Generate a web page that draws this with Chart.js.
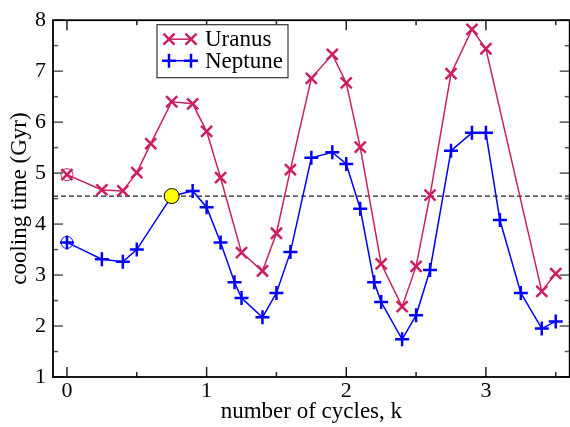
<!DOCTYPE html>
<html><head><meta charset="utf-8">
<script src="https://cdn.jsdelivr.net/npm/chart.js@4/dist/chart.umd.min.js"></script>
<style>html,body{margin:0;padding:0;overflow:hidden;background:#fff}canvas{display:block}</style>
</head><body>
<canvas id="c" width="580" height="427"></canvas>
<script>
const uranusX = [0,0.25,0.4,0.5,0.6,0.75,0.9,1.0,1.1,1.25,1.4,1.5,1.6,1.75,1.9,2.0,2.1,2.25,2.4,2.5,2.6,2.75,2.9,3.0,3.4,3.5];
const uranusY = [4.97,4.67,4.65,5.01,5.58,6.40,6.36,5.82,4.91,3.44,3.08,3.82,5.07,6.86,7.33,6.77,5.51,3.22,2.38,3.17,4.57,6.95,7.82,7.44,2.68,3.03];
const neptuneX = [0,0.25,0.4,0.5,0.75,0.9,1.0,1.1,1.2,1.25,1.4,1.5,1.6,1.75,1.9,2.0,2.1,2.2,2.25,2.4,2.5,2.6,2.75,2.9,3.0,3.1,3.25,3.4,3.5];
const neptuneY = [3.64,3.31,3.26,3.50,4.55,4.65,4.33,3.64,2.86,2.55,2.17,2.65,3.45,5.30,5.41,5.18,4.30,2.86,2.47,1.74,2.21,3.10,5.44,5.79,5.79,4.08,2.65,1.95,2.09];
const refLevel = 4.55;
const markX = 0.75, markY = 4.55;
const xRange = [-0.1, 3.6];
const yRange = [1, 8];
const xMajor = [0,1,2,3];
const xMinor = [0.5,1.5,2.5,3.5];
const xTickLabels = ['0','1','2','3'];
const yMajor = [1,2,3,4,5,6,7,8];
const yMinor = [1.5,2.5,3.5,4.5,5.5,6.5,7.5];
const seriesNames = ['Uranus','Neptune'];
const xTitle = 'number of cycles, k';
const yTitle = 'cooling time (Gyr)';

const UCOL = 'rgb(204,30,98)';
const NCOL = '#0000ff';
const pts = (xs, ys) => xs.map((x, i) => ({x, y: ys[i]}));

const frameTicks = {
  id: 'frameTicks',
  afterDatasetsDraw(chart) {
    const {ctx, chartArea: a, scales: {x, y}} = chart;
    ctx.save();
    const ln = (x1, y1, x2, y2) => { ctx.beginPath(); ctx.moveTo(x1, y1); ctx.lineTo(x2, y2); ctx.stroke(); };
    ctx.strokeStyle = '#222'; ctx.lineWidth = 1.5;
    xMajor.forEach(v => { const p = x.getPixelForValue(v); ln(p, a.bottom, p, a.bottom - 10); ln(p, a.top, p, a.top + 10); });
    xMinor.forEach(v => { const p = x.getPixelForValue(v); ln(p, a.bottom, p, a.bottom - 5); ln(p, a.top, p, a.top + 5); });
    ctx.strokeStyle = '#555';
    yMajor.forEach(v => { const p = y.getPixelForValue(v); ln(a.left, p, a.left + 10, p); ln(a.right, p, a.right - 10, p); });
    yMinor.forEach(v => { const p = y.getPixelForValue(v); ln(a.left, p, a.left + 5, p); ln(a.right, p, a.right - 5, p); });
    ctx.strokeStyle = '#000'; ctx.lineWidth = 1.8;
    ctx.strokeRect(a.left, a.top, a.right - a.left, a.bottom - a.top);
    // legend
    const L = a.left + 104, T = a.top + 4.5, W = 131, H = 53;
    ctx.fillStyle = '#fff'; ctx.fillRect(L, T, W, H);
    ctx.strokeStyle = '#333'; ctx.lineWidth = 1.2; ctx.strokeRect(L, T, W, H);
    const entries = [
      {name: seriesNames[0], col: UCOL, style: 'crossRot', r: 7.8, yy: T + 14.5},
      {name: seriesNames[1], col: NCOL, style: 'cross', r: 7, yy: T + 36}
    ];
    entries.forEach(e => {
      ctx.strokeStyle = e.col; ctx.lineWidth = 1.5;
      ln(L + 12, e.yy, L + 34, e.yy);
      ctx.lineWidth = 2.5;
      [L + 12, L + 34].forEach(px => Chart.helpers.drawPoint(ctx, {pointStyle: e.style, radius: e.r, borderWidth: 2.5, rotation: 0}, px, e.yy));
      ctx.fillStyle = '#000'; ctx.font = '23px "Liberation Serif"'; ctx.textBaseline = 'middle'; ctx.textAlign = 'left';
      ctx.fillText(e.name, L + 48, e.yy + 1);
    });
    ctx.restore();
  }
};

new Chart(document.getElementById('c'), {
  type: 'scatter',
  data: {
    datasets: [
      {label: 'mark', data: [{x: markX, y: markY}], pointStyle: 'circle', pointRadius: 7.5, pointBackgroundColor: '#ffff00', pointBorderColor: '#000', pointBorderWidth: 1, showLine: false, order: 0},
      {label: seriesNames[0], data: pts(uranusX, uranusY), showLine: true, borderColor: UCOL, borderWidth: 1.5, pointStyle: 'crossRot', pointRadius: 7.8, pointBorderColor: UCOL, pointBorderWidth: 2.5, order: 2},
      {label: seriesNames[1], data: pts(neptuneX, neptuneY), showLine: true, borderColor: NCOL, borderWidth: 1.5, pointStyle: 'cross', pointRadius: 7, pointBorderColor: NCOL, pointBorderWidth: 2.5, order: 1},
      {label: 'uc', data: [{x: uranusX[0], y: uranusY[0]}], pointStyle: 'circle', pointRadius: 6, pointBackgroundColor: 'rgba(0,0,0,0)', pointBorderColor: UCOL, pointBorderWidth: 1, showLine: false, order: 3},
      {label: 'nc', data: [{x: neptuneX[0], y: neptuneY[0]}], pointStyle: 'circle', pointRadius: 6, pointBackgroundColor: 'rgba(0,0,0,0)', pointBorderColor: NCOL, pointBorderWidth: 1, showLine: false, order: 3},
      {label: 'ref', data: [{x: xRange[0], y: refLevel}, {x: xRange[1], y: refLevel}], showLine: true, borderColor: '#222', borderWidth: 1.3, borderDash: [5, 3], pointRadius: 0, order: 4}
    ]
  },
  options: {
    responsive: false, animation: false, devicePixelRatio: 1,
    layout: {padding: {top: 13, right: 7.5, left: 0, bottom: 0}},
    plugins: {legend: {display: false}, tooltip: {enabled: false}},
    scales: {
      x: {
        type: 'linear', min: xRange[0], max: xRange[1],
        afterBuildTicks: s => { s.ticks = xMajor.map(v => ({value: v})); },
        afterFit: s => { s.height = 50; },
        grid: {display: false, drawTicks: false},
        border: {display: false},
        ticks: {padding: 1, color: '#000', font: {family: 'Liberation Serif', size: 22}, callback: (v) => { const i = xMajor.indexOf(v); return i >= 0 ? xTickLabels[i] : ''; }, maxRotation: 0, autoSkip: false},
        title: {display: true, text: xTitle, color: '#000', font: {family: 'Liberation Serif', size: 23}, padding: {top: 0, bottom: 1}}
      },
      y: {
        type: 'linear', min: yRange[0], max: yRange[1],
        afterBuildTicks: s => { s.ticks = yMajor.map(v => ({value: v})); },
        afterFit: s => { s.width = 53; },
        grid: {display: false, drawTicks: false},
        border: {display: false},
        ticks: {padding: 7, color: '#000', font: {family: 'Liberation Serif', size: 22}, autoSkip: false},
        title: {display: true, text: yTitle, color: '#000', font: {family: 'Liberation Serif', size: 23}, padding: {top: 6, bottom: 0}}
      }
    }
  },
  plugins: [frameTicks]
});
</script>
</body></html>
